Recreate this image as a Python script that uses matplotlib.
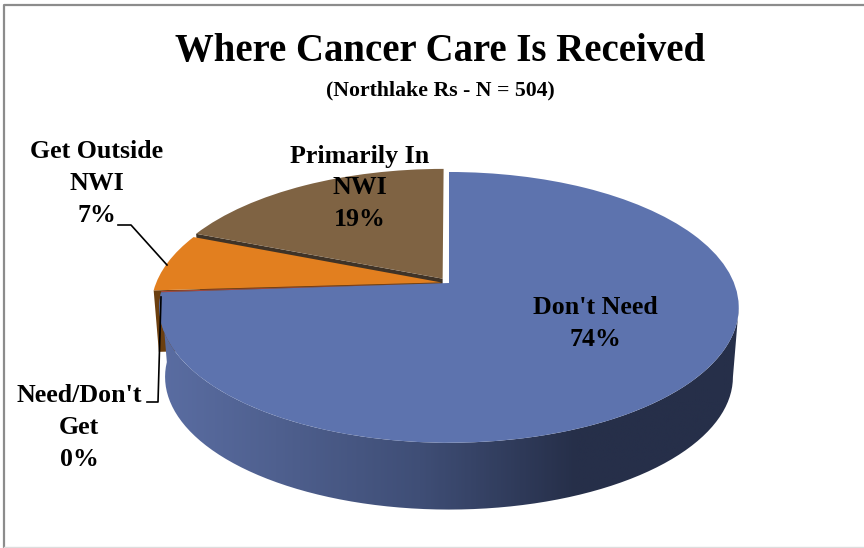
#!/usr/bin/env python
"""Where cancer care is received - tilted 3D style pie."""
import numpy as np
import matplotlib
matplotlib.use("Agg")
import matplotlib.pyplot as plt
from matplotlib.colors import LinearSegmentedColormap
from matplotlib.patches import Polygon
from matplotlib.transforms import Transform

W, H = 864, 548

# data, clockwise from 12 o'clock
categories = ["Don't Need", "Need/Don't Get", "Get Outside NWI", "Primarily In NWI"]
values = [74, 0.15, 7, 19]
explode = [0, 0, 0.028, 0.04]
top_colors = ["#5d73ae", "#a5473f", "#e27f1f", "#7f6343"]
side_colors = ["#262f49", "#6b3f10", "#6b3f10", "#3f3327"]
TITLE = "Where Cancer Care Is Received"
SUBTITLE = "(Northlake Rs - N = 504)"

# pie geometry in pixels, perspective from the tilt
CX, CY, RX, RY, K = 449, 283, 285, 131, 0.18
DEPTH, SHRINK = 70, 0.02


def project(xy, drop=0.0):
    xy = np.asarray(xy, dtype=float)
    d = 1 + K * xy[..., 1]
    s = 1 - SHRINK * drop
    return np.stack([CX + RX * s * xy[..., 0] / d,
                     CY + DEPTH * drop - RY * s * xy[..., 1] / d], axis=-1)


class Tilt(Transform):
    input_dims = output_dims = 2

    def transform_non_affine(self, values):
        return project(values)


def rim(w, t1, t2, drop=0.0, n=80):
    t = np.radians(np.linspace(t1, t2, n))
    pts = np.column_stack([w.center[0] + np.cos(t), w.center[1] + np.sin(t)])
    return project(pts, drop)


def cut_face(w, angle, drop=1.0):
    """side face of a wedge along one of its straight edges"""
    c = np.array(w.center)
    a = np.radians(angle)
    edge = c + [np.cos(a), np.sin(a)]
    return np.array([project(c), project(edge), project(edge, drop), project(c, drop)])


fig = plt.figure(figsize=(W / 100, H / 100), dpi=100)
ax = fig.add_axes([0, 0, 1, 1])
wedges, _ = ax.pie(values, explode=explode, colors=top_colors, startangle=90,
                   counterclock=False, wedgeprops={"linewidth": 0})
ax.set_aspect("auto")
ax.axis("off")
for w in wedges:
    w.set_transform(Tilt() + ax.transData)

blue, zero, orange, brown = wedges
brown.set_zorder(3)
orange.set_zorder(5)
zero.set_zorder(6)
blue.set_zorder(8)

ax.add_patch(Polygon(cut_face(brown, brown.theta2), fc=side_colors[3], lw=0, zorder=2))
ax.add_patch(Polygon(cut_face(orange, orange.theta2, 0.88), fc=side_colors[2], lw=0, zorder=4))

# front wall of the big slice, shaded left to right
tangent = -np.degrees(np.arcsin(K))
wall = np.vstack([rim(blue, blue.theta1, tangent), rim(blue, tangent, blue.theta1, 1)])
wall_patch = Polygon(wall, fc="none", lw=0, transform=ax.transData)
ax.add_patch(wall_patch)
shade = LinearSegmentedColormap.from_list(
    "wall", [(0, "#5a6da2"), (0.2, "#4f608f"), (0.45, "#3f4e76"), (0.72, "#262f49"), (1, "#262f49")])
im = ax.imshow(np.linspace(0, 1, 300)[np.newaxis], cmap=shade, aspect="auto",
               extent=[wall[:, 0].min(), wall[:, 0].max(), wall[:, 1].max(), wall[:, 1].min()],
               zorder=7)
im.set_clip_path(wall_patch)

ax.set_xlim(0, W)
ax.set_ylim(H, 0)

# chart frame
ax.plot([3.5, 3.5, W], [H, 4.5, 4.5], color="#8c8c8c", lw=1.6, zorder=1)
ax.plot([3.5, W], [547, 547], color="#dddddd", lw=1, zorder=1)

# leader lines
ax.plot([118, 131, 167], [225, 225, 265], color="black", lw=1.2, zorder=9)
ax.plot([147, 158, 161], [402, 402, 297], color="black", lw=1.2, zorder=9)

font = {"family": "Liberation Serif", "weight": "bold", "color": "black", "ha": "center", "va": "center"}
ax.text(440, 52, TITLE, fontsize=27.9, zorder=10, **font)
ax.text(440, 90, SUBTITLE, fontsize=15.7, zorder=10, **font)

LAB = 18.6
SP = 1.5
ax.text(97, 184, "Get Outside\nNWI\n7%", fontsize=LAB, linespacing=SP, zorder=10, **font)
ax.text(360, 188, "Primarily In\nNWI\n19%", fontsize=LAB, linespacing=SP, zorder=10, **font)
ax.text(595, 324, "Don't Need\n74%", fontsize=LAB, linespacing=SP, zorder=10, **font)
ax.text(79, 427, "Need/Don't\nGet\n0%", fontsize=LAB, linespacing=SP, zorder=10, **font)

fig.savefig("out.png", dpi=100, facecolor="white")
